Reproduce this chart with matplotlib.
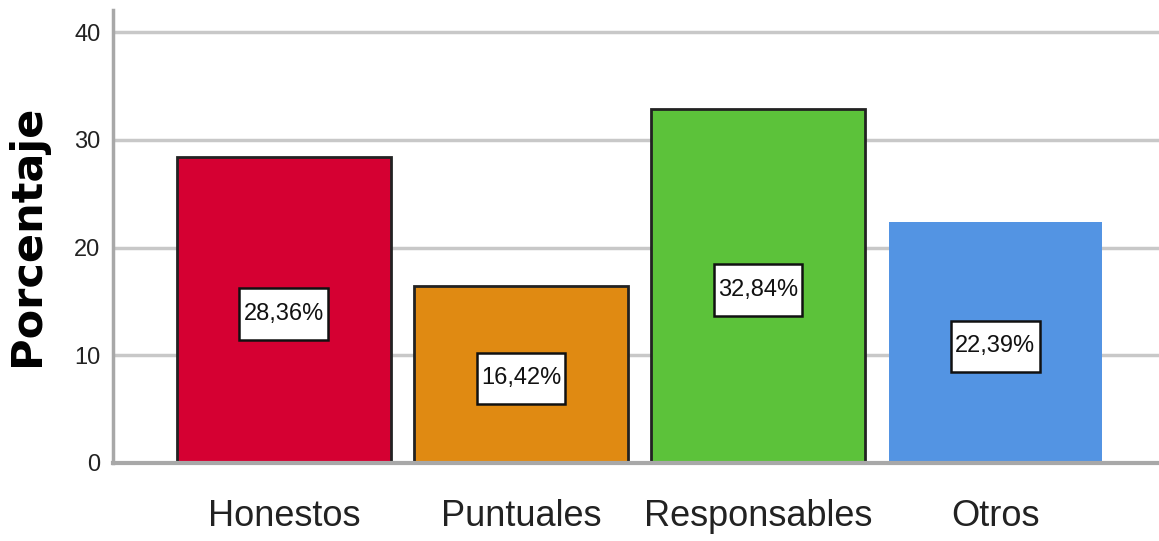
import matplotlib
matplotlib.use('Agg')
import matplotlib.pyplot as plt
from matplotlib.path import Path

categories = ['Honestos', 'Puntuales', 'Responsables', 'Otros']
values = [28.36, 16.42, 32.84, 22.39]
labels = ['28,36%', '16,42%', '32,84%', '22,39%']
colors = ['#d50032', '#e08a12', '#5cc23a', '#5394e3']
edges = ['#222222', '#222222', '#222222', 'none']
yticks = [0, 10, 20, 30, 40]

narrow = ['Liberation Sans', 'DejaVu Sans']


def label_box(x0, y0, w, h, mutation_size):
    # wider vertical padding than horizontal, like the SPSS label boxes
    px = 0.18 * mutation_size
    py = 0.62 * mutation_size
    x0, y0, x1, y1 = x0 - px, y0 - py, x0 + w + px, y0 + h + py
    return Path([(x0, y0), (x1, y0), (x1, y1), (x0, y1), (x0, y0)],
                [Path.MOVETO, Path.LINETO, Path.LINETO, Path.LINETO, Path.CLOSEPOLY])


fig = plt.figure(figsize=(11.59, 5.41), dpi=100)
ax = fig.add_axes([0.0975, 0.1442, 0.9025, 0.8373])

x = range(len(categories))
ax.bar(x, values, width=0.9, color=colors, edgecolor=edges, linewidth=2, zorder=2)

for i, v in enumerate(values):
    ax.text(i, v / 2 - 0.35, labels[i], ha='center', va='center', fontsize=17,
            family=narrow, color='#111111', zorder=3,
            bbox=dict(boxstyle=label_box, facecolor='white', edgecolor='#111111', linewidth=1.8))

ax.set_xlim(-0.72, 3.69)
ax.set_ylim(0, 42.05)
ax.set_yticks(yticks)
ax.set_yticklabels([str(t) for t in yticks], family=narrow, fontsize=17, color='#222222')
ax.set_xticks(list(x))
ax.set_xticklabels(categories, family=narrow, fontsize=26, color='#222222')
ax.tick_params(axis='y', length=0, pad=9)
ax.tick_params(axis='x', length=0, pad=26)

ax.yaxis.grid(True, color='#c8c8c8', linewidth=2.5, zorder=0)
ax.set_axisbelow(True)
for s in ['top', 'right']:
    ax.spines[s].set_visible(False)
ax.spines['left'].set_color('#a8a8a8')
ax.spines['left'].set_linewidth(2.5)
ax.spines['bottom'].set_color('#a8a8a8')
ax.spines['bottom'].set_linewidth(3)

ax.set_ylabel('Porcentaje', family='DejaVu Sans', fontweight='bold', fontsize=31)
ax.yaxis.set_label_coords(-0.062, 0.503)

fig.savefig('out.png', dpi=100)
